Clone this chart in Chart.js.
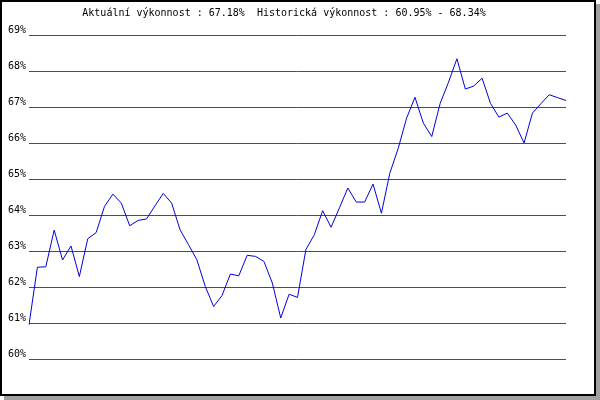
<!DOCTYPE html>
<html>
<head>
<meta charset="utf-8">
<script src="https://cdn.jsdelivr.net/npm/chart.js@4/dist/chart.umd.min.js"></script>
<style>
  html, body { margin: 0; padding: 0; background: #fff; }
  #frame {
    position: absolute; left: 0; top: 0;
    width: 592px; height: 392px;
    border: 2px solid #000;
    box-shadow: 4px 4px 0 #a0a0a0;
    background: #fff;
  }
</style>
</head>
<body>
<div id="frame"><canvas id="chart" width="592" height="392"></canvas></div>
<script>
// values
const values = [
  60.95, 62.55, 62.56, 63.58, 62.75, 63.14, 62.29, 63.34, 63.51, 64.24,
  64.58, 64.33, 63.70, 63.85, 63.89, 64.25, 64.60, 64.33, 63.59, 63.18,
  62.76, 62.02, 61.46, 61.76, 62.36, 62.31, 62.88, 62.85, 62.71, 62.11,
  61.14, 61.80, 61.71, 63.04, 63.45, 64.12, 63.66, 64.20, 64.75, 64.36,
  64.36, 64.86, 64.05, 65.16, 65.85, 66.69, 67.27, 66.55, 66.18, 67.10,
  67.69, 68.34, 67.50, 67.58, 67.80, 67.10, 66.72, 66.83, 66.50, 66.00,
  66.83, 67.09, 67.34, 67.26, 67.18
];
const labels = values.map((v, i) => String(i + 1));
const yTicks = [60, 61, 62, 63, 64, 65, 66, 67, 68, 69];
const current = "67.18%";
const histRange = ["60.95%", "68.34%"];

const mono = "'DejaVu Sans Mono', monospace";

new Chart(document.getElementById("chart"), {
  type: "line",
  data: {
    labels: labels,
    datasets: [
      {
        data: values,
        borderColor: "#0000dd",
        borderWidth: 1,
        pointRadius: 0,
        tension: 0,
        fill: false,
      },
    ],
  },
  options: {
    responsive: false,
    animation: false,
    layout: { padding: { left: 0, right: 28, top: 0, bottom: 35 } },
    plugins: {
      legend: { display: false },
      tooltip: { enabled: false },
      title: {
        display: true,
        text: "Aktuální výkonnost : " + current + "  Historická výkonnost : " + histRange[0] + " - " + histRange[1],
        color: "#000",
        font: { family: mono, size: 10, weight: "normal" },
        padding: { top: 5, bottom: 16 },
      },
    },
    scales: {
      x: { display: false, offset: false },
      y: {
        min: yTicks[0],
        max: yTicks[yTicks.length - 1],
        afterFit: (scale) => { scale.width = 27; },
        afterBuildTicks: (scale) => { scale.ticks = yTicks.map((v) => ({ value: v })); },
        ticks: {
          color: "#000",
          font: { family: mono, size: 10 },
          padding: 3,
          labelOffset: -5,
          callback: (v) => v + "%",
        },
        grid: { color: "#ff0000", lineWidth: 1, drawTicks: false },
        border: { display: false },
      },
    },
  },
});
</script>
</body>
</html>
